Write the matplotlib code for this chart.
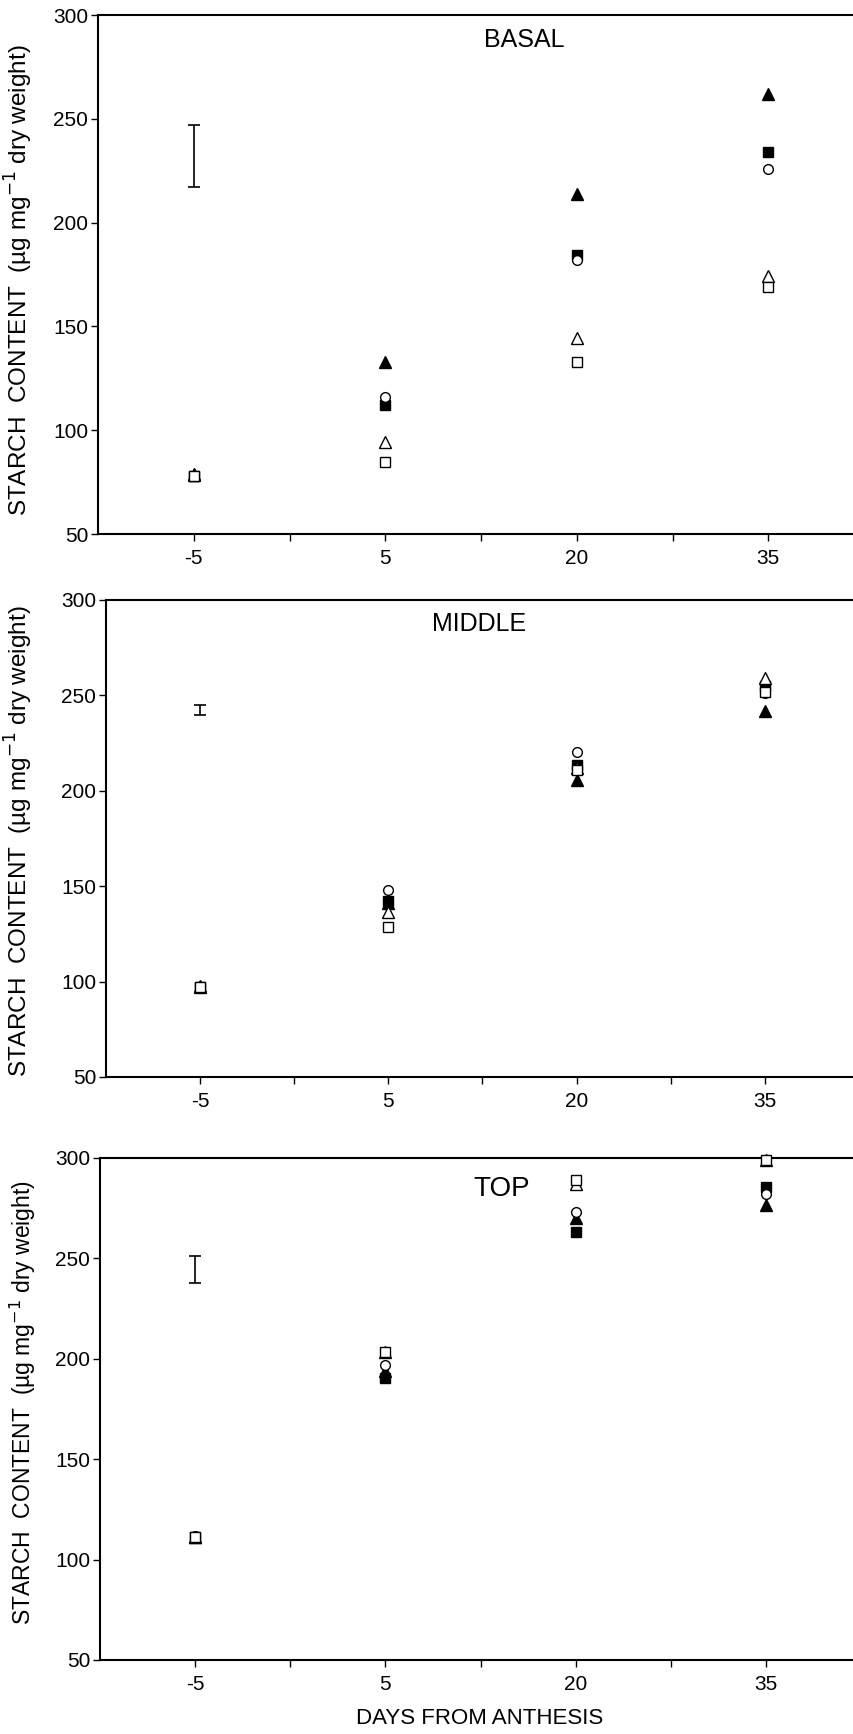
import matplotlib
matplotlib.use("Agg")
import matplotlib.pyplot as plt
import numpy as np

plt.rcParams["font.family"] = ["Liberation Sans", "DejaVu Sans"]

days = ["-5", "5", "20", "35"]
panel_names = ["BASAL", "MIDDLE", "TOP"]

# values, one list per marker style
basal_tri_f = [79, 133, 214, 262]
basal_sq_f = [78, 112, 184.5, 234]
basal_circ_o = [78, 116, 182, 226]
basal_tri_o = [78.5, 94.5, 144.5, 174.5]
basal_sq_o = [78, 84.5, 133, 169]
basal_err = [232, 15]

middle_tri_f = [97, 141, 205.5, 242]
middle_sq_f = [97, 142, 213.5, 255]
middle_circ_o = [97, 148, 220.5, 251.5]
middle_tri_o = [97.5, 136.5, 212, 259]
middle_sq_o = [97, 128.5, 211, 252]
middle_err = [242.3, 2.8]

top_tri_f = [111, 194, 270, 276.5]
top_sq_f = [111, 190.5, 263, 285.5]
top_circ_o = [111.5, 197, 273, 282]
top_tri_o = [111, 203.5, 287, 299]
top_sq_o = [111, 203.5, 289, 299]
top_err = [244.3, 6.8]

panels = [
    (basal_tri_f, basal_sq_f, basal_circ_o, basal_tri_o, basal_sq_o, basal_err),
    (middle_tri_f, middle_sq_f, middle_circ_o, middle_tri_o, middle_sq_o, middle_err),
    (top_tri_f, top_sq_f, top_circ_o, top_tri_o, top_sq_o, top_err),
]

# axes boxes in figure fraction (right edge runs off the page like the original)
boxes = [
    [0.1148, 0.692, 0.897, 0.2993],
    [0.1241, 0.3789, 0.8817, 0.2751],
    [0.1171, 0.0427, 0.8911, 0.2895],
]
title_pos = [(0.556, 0.952, 18), (0.495, 0.950, 18), (0.528, 0.938, 20)]
ylabel_pos = [(-0.082, 0.49, 17.5), (-0.094, 0.495, 17.5), (-0.081, 0.513, 16.5)]

fig = plt.figure(figsize=(8.54, 17.34), dpi=100)
x = np.arange(len(days))

for i, (tri_f, sq_f, circ_o, tri_o, sq_o, err) in enumerate(panels):
    ax = fig.add_axes(boxes[i])
    kw = dict(linestyle="none", markeredgecolor="black", markeredgewidth=1.0, clip_on=False)
    ax.plot(x, tri_f, marker="^", markersize=8.5, markerfacecolor="black", zorder=3, **kw)
    ax.plot(x, sq_f, marker="s", markersize=7.5, markerfacecolor="black", zorder=3, **kw)
    ax.plot(x, circ_o, marker="o", markersize=7, markerfacecolor="white", zorder=4, **kw)
    ax.plot(x, tri_o, marker="^", markersize=8.5, markerfacecolor="white", zorder=4, **kw)
    ax.plot(x, sq_o, marker="s", markersize=7.5, markerfacecolor="white", zorder=4, **kw)

    # LSD bar
    ax.errorbar([0], [err[0]], yerr=[err[1]], fmt="none", ecolor="black",
                elinewidth=1.2, capsize=4, capthick=1.2)

    ax.set_xlim(-0.5, 3.5)
    ax.set_ylim(50, 300)
    ax.set_xticks(x)
    ax.set_xticklabels(days)
    ax.set_xticks(x[:-1] + 0.5, minor=True)
    ax.set_yticks(np.arange(50, 301, 50))
    ax.tick_params(axis="both", which="both", direction="out", length=5,
                   width=1.0, labelsize=15)
    ax.tick_params(axis="x", pad=6)
    ax.tick_params(axis="y", pad=2)
    for s in ax.spines.values():
        s.set_linewidth(1.5)

    tx, ty, tsize = title_pos[i]
    ax.text(tx, ty, panel_names[i], transform=ax.transAxes, ha="center",
            va="center", fontsize=tsize)

    lx, ly, lsize = ylabel_pos[i]
    ax.set_ylabel("STARCH  CONTENT  (µg mg$^{-1}$ dry weight)", fontsize=lsize)
    ax.yaxis.set_label_coords(lx, ly)

fig.text(480 / 854, 1 - 1719 / 1734, "DAYS FROM ANTHESIS", ha="center",
         va="center", fontsize=16)

fig.savefig("out.png", dpi=100)
